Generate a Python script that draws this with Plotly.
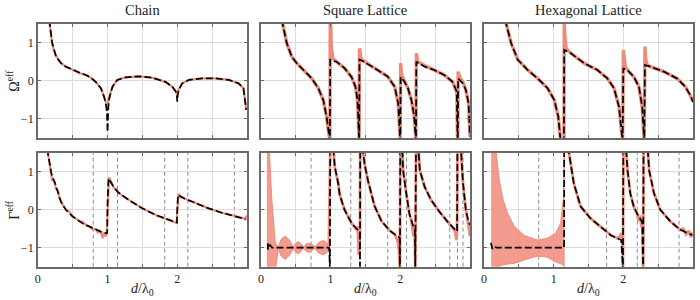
import plotly.graph_objects as go

# ---------------- data ----------------
# Chain, Omega
chain_om_ref_x = [0.16, 0.17, 0.19, 0.205, 0.23, 0.262, 0.3, 0.333, 0.4, 0.5, 0.6, 0.69, 0.76, 0.83, 0.905, 0.95, 0.975, 0.99, 0.998,
                  1.005, 1.02, 1.07, 1.14, 1.26, 1.45, 1.64, 1.83, 1.93, 1.98, 1.995, 2.0, 2.005, 2.02, 2.07, 2.17, 2.36, 2.55,
                  2.74, 2.88, 2.95, 2.99]
chain_om_ref_y = [1.6, 1.45, 1.15, 0.98, 0.8, 0.65, 0.55, 0.46, 0.37, 0.28, 0.2, 0.15, 0.08, -0.03, -0.2, -0.42, -0.55, -0.65, -0.72,
                  -0.6, -0.45, -0.16, 0.02, 0.09, 0.115, 0.08, -0.03, -0.16, -0.28, -0.35, -0.4, -0.33, -0.24, -0.07, 0.02, 0.06, 0.06,
                  0.02, -0.07, -0.2, -0.77]
chain_om_mod_x = [0.165, 0.19, 0.205, 0.262, 0.333, 0.4, 0.5, 0.6, 0.69, 0.76, 0.83, 0.905, 0.95, 0.975, 0.99, 1.0, 1.01, 1.02, 1.07,
                  1.14, 1.26, 1.45, 1.64, 1.83, 1.93, 1.98, 1.995, 2.0, 2.005, 2.02, 2.07, 2.17, 2.36, 2.55, 2.74, 2.88, 2.95, 2.99]
chain_om_mod_y = [1.6, 1.15, 1.0, 0.63, 0.46, 0.37, 0.28, 0.21, 0.15, 0.08, -0.03, -0.2, -0.42, -0.6, -0.8, -1.35, -0.75, -0.5, -0.16,
                  0.02, 0.09, 0.115, 0.08, -0.03, -0.16, -0.29, -0.4, -0.55, -0.4, -0.25, -0.07, 0.02, 0.06, 0.06, 0.02, -0.07, -0.2, -0.77]

# Chain, Gamma
chain_ga_ref_x = [0.14, 0.16, 0.19, 0.205, 0.22, 0.24, 0.26, 0.29, 0.31, 0.33, 0.36, 0.405, 0.45, 0.5, 0.55, 0.6, 0.64, 0.7, 0.74,
                  0.79, 0.83, 0.86, 0.88, 0.91, 0.93, 0.95, 0.97, 0.99, 1.02, 1.05, 1.08, 1.11, 1.143, 1.2, 1.31, 1.5, 1.69, 1.88,
                  1.94, 1.976, 1.99, 2.02, 2.05, 2.095, 2.26, 2.45, 2.64, 2.83, 2.9, 2.95, 2.98, 2.99]
chain_ga_ref_y = [1.55, 1.25, 0.95, 0.78, 0.78, 0.7, 0.55, 0.5, 0.3, 0.25, 0.12, 0.0, -0.05, -0.18, -0.24, -0.3, -0.32, -0.42, -0.45,
                  -0.52, -0.5, -0.6, -0.55, -0.62, -0.75, -0.6, -0.7, -0.6, 0.85, 0.75, 0.6, 0.55, 0.47, 0.38, 0.25, 0.035, -0.14, -0.27,
                  -0.3, -0.33, -0.35, 0.42, 0.33, 0.3, 0.17, 0.035, -0.08, -0.18, -0.2, -0.22, -0.25, -0.15]
chain_ga_mod_x = [0.14, 0.148, 0.19, 0.205, 0.24, 0.29, 0.33, 0.405, 0.5, 0.64, 0.79, 0.93, 0.986, 0.995, 1.0, 1.014, 1.071, 1.143,
                  1.31, 1.5, 1.69, 1.88, 1.976, 1.995, 2.0, 2.01, 2.095, 2.26, 2.45, 2.64, 2.83, 2.98]
chain_ga_mod_y = [1.6, 1.45, 1.0, 0.87, 0.74, 0.47, 0.21, -0.01, -0.18, -0.36, -0.49, -0.6, -0.62, -0.63, 0.2, 0.82, 0.65, 0.47,
                  0.25, 0.035, -0.14, -0.27, -0.33, -0.34, 0.0, 0.39, 0.3, 0.17, 0.035, -0.08, -0.18, -0.25]

# Square lattice, Omega
sq_om_mod_x = [0.3, 0.31, 0.371, 0.443, 0.514, 0.633, 0.729, 0.824, 0.895, 0.943, 0.976, 0.99, 0.995, 1.03, 1.086, 1.2, 1.3, 1.357,
               1.386, 1.405, 1.41, 1.414, 1.44, 1.63, 1.82, 1.92, 1.97, 1.996, 2.0, 2.005, 2.06, 2.11, 2.16, 2.2, 2.22, 2.225, 2.23,
               2.35, 2.49, 2.63, 2.75, 2.81, 2.82, 2.825, 2.83, 2.9, 2.94, 2.98, 3.0]
sq_om_mod_y = [1.6, 1.5, 0.99, 0.63, 0.46, 0.24, 0.06, -0.2, -0.51, -0.95, -1.5, -1.6, 0.55, 0.52, 0.5, 0.33, 0.1, -0.16,
               -0.51, -1.5, -1.6, 0.56, 0.54, 0.33, 0.11, -0.16, -0.6, -1.47, -1.6, 0.1, -0.03, -0.2, -0.51, -0.95, -1.47, -1.6, 0.5,
               0.37, 0.28, 0.15, -0.03, -0.29, -1.47, -1.6, 0.06, -0.07, -0.24, -0.6, -1.47]
sq_om_ref_x = [0.3, 0.31, 0.371, 0.443, 0.514, 0.633, 0.729, 0.824, 0.895, 0.943, 0.976, 0.99, 0.995, 1.0, 1.01, 1.03, 1.086, 1.2,
               1.3, 1.357, 1.386, 1.405, 1.41, 1.414, 1.43, 1.44, 1.63, 1.82, 1.92, 1.97, 1.996, 2.0, 2.005, 2.02, 2.06, 2.11,
               2.16, 2.2, 2.22, 2.225, 2.23, 2.25, 2.35, 2.49, 2.63, 2.75, 2.81, 2.82, 2.825, 2.83, 2.85, 2.9, 2.94, 2.98, 3.0]
sq_om_ref_y = [1.6, 1.5, 0.99, 0.63, 0.46, 0.24, 0.06, -0.2, -0.51, -0.95, -1.5, -1.6, 1.6, 1.6, 0.9, 0.6, 0.5, 0.33,
               0.1, -0.16, -0.51, -1.5, -1.6, 0.85, 0.62, 0.56, 0.33, 0.11, -0.16, -0.6, -1.47, -1.6, 0.46, 0.15, -0.01, -0.2,
               -0.51, -0.95, -1.47, -1.6, 0.72, 0.5, 0.4, 0.28, 0.15, -0.03, -0.29, -1.47, -1.6, 0.24, 0.1, -0.05, -0.24, -0.6, -1.47]

# Square lattice, Gamma
sq_ga_band_x = [0.086, 0.12, 0.157, 0.181, 0.205, 0.229, 0.25, 0.29, 0.347, 0.41, 0.467, 0.5, 0.538, 0.575, 0.61, 0.65, 0.695,
                0.735, 0.776, 0.83, 0.895, 0.94, 0.975]
sq_ga_band_hi = [1.6, 1.6, 0.25, -0.45, -0.84, -0.93, -0.98, -0.78, -0.69, -0.8, -0.98, -0.88, -0.84, -0.9, -0.98, -0.9, -0.88,
                 -0.92, -0.98, -0.86, -0.81, -0.86, -0.95]
sq_ga_band_lo = [-1.6, -1.6, -1.6, -1.6, -1.6, -1.3, -1.02, -1.22, -1.31, -1.2, -1.02, -1.12, -1.16, -1.1, -1.02, -1.1, -1.12,
                 -1.08, -1.02, -1.14, -1.19, -1.14, -1.05]
sq_ga_mod_x = [0.1, 0.1, 0.13, 0.16, 0.98, 0.99, 0.995, 1.04, 1.06, 1.11, 1.13, 1.2, 1.3, 1.38, 1.42, 1.422, 1.425, 1.46, 1.49,
               1.54, 1.63, 1.73, 1.85, 1.92, 1.99, 1.995, 2.0, 2.03, 2.04, 2.086, 2.13, 2.18, 2.21, 2.215, 2.225, 2.26, 2.28,
               2.35, 2.44, 2.56, 2.68, 2.79, 2.815, 2.82, 2.87, 2.9, 2.94, 2.98, 3.0]
sq_ga_mod_y = [-0.88, -1.05, -0.92, -1.0, -1.0, -1.6, 1.6, 1.6, 1.13, 0.69, 0.4, 0.0, -0.35, -0.52, -0.6, -1.6, 1.6, 1.6, 1.18,
               0.74, 0.1, -0.3, -0.55, -0.65, -0.73, -1.6, 1.6, 1.6, 1.04, 0.43, -0.1, -0.4, -0.53, -1.6, 1.6, 1.6, 1.04,
               0.6, 0.26, -0.05, -0.32, -0.53, -0.57, 1.6, 1.6, 0.69, 0.0, -0.32, -0.4]
sq_ga_ref_x = [0.975, 0.985, 0.995, 1.04, 1.06, 1.11, 1.13, 1.2, 1.3, 1.36, 1.39, 1.405, 1.415, 1.422, 1.425, 1.46, 1.49,
               1.54, 1.63, 1.73, 1.85, 1.92, 1.96, 1.98, 1.995, 2.0, 2.03, 2.04, 2.086, 2.13, 2.16, 2.18, 2.19, 2.205, 2.215, 2.225,
               2.26, 2.28, 2.35, 2.44, 2.56, 2.68, 2.76, 2.79, 2.805, 2.815, 2.82, 2.87, 2.9, 2.94, 2.96, 2.98, 3.0]
sq_ga_ref_y = [-0.95, 1.6, 1.6, 1.6, 1.13, 0.69, 0.4, 0.0, -0.35, -0.5, -0.45, -1.2, -0.7, -0.6, 1.6, 1.6, 1.18,
               0.74, 0.1, -0.3, -0.55, -0.65, -0.8, -1.06, -1.6, 1.6, 1.6, 1.04, 0.43, -0.1, -0.3, -0.5, -0.7, -0.45, -1.6, 1.6,
               1.6, 1.04, 0.6, 0.26, -0.05, -0.32, -0.5, -0.6, -0.8, -0.55, 1.6, 1.6, 0.69, 0.0, -0.3, -0.45, -0.7]

# Hexagonal lattice, Omega
hx_om_mod_x = [0.31, 0.319, 0.39, 0.486, 0.629, 0.771, 0.914, 1.01, 1.067, 1.095, 1.1, 1.148, 1.152, 1.176, 1.248, 1.438, 1.629,
               1.771, 1.867, 1.938, 1.986, 1.99, 2.0, 2.08, 2.152, 2.224, 2.271, 2.295, 2.3, 2.31, 2.39, 2.58, 2.77, 2.89, 2.96, 3.0]
hx_om_mod_y = [1.6, 1.5, 0.99, 0.55, 0.28, 0.06, -0.2, -0.51, -0.95, -1.5, -1.6, -1.6, 0.81, 0.79, 0.72, 0.46, 0.28,
               0.06, -0.2, -0.69, -1.5, -1.6, 0.33, 0.24, 0.1, -0.16, -0.69, -1.5, -1.6, 0.41, 0.37, 0.24, 0.06, -0.16, -0.38, -0.56]
hx_om_ref_x = [0.31, 0.319, 0.39, 0.486, 0.629, 0.771, 0.914, 1.01, 1.067, 1.095, 1.1, 1.148, 1.152, 1.16, 1.18, 1.248, 1.438,
               1.629, 1.771, 1.867, 1.938, 1.986, 1.99, 2.0, 2.01, 2.03, 2.08, 2.152, 2.224, 2.271, 2.295, 2.3, 2.31, 2.32, 2.34,
               2.39, 2.58, 2.77, 2.89, 2.96, 3.0]
hx_om_ref_y = [1.6, 1.5, 0.99, 0.55, 0.28, 0.06, -0.2, -0.51, -0.95, -1.5, -1.6, -1.6, 1.6, 1.2, 0.85, 0.72, 0.46,
               0.28, 0.06, -0.2, -0.69, -1.5, -1.6, 0.81, 0.55, 0.35, 0.24, 0.1, -0.16, -0.69, -1.5, -1.6, 0.9, 0.6, 0.42,
               0.37, 0.24, 0.06, -0.16, -0.38, -0.56]

# Hexagonal lattice, Gamma
hx_ga_band_x = [0.104, 0.14, 0.176, 0.22, 0.25, 0.27, 0.34, 0.44, 0.58, 0.77, 0.91, 1.03, 1.1, 1.14, 1.15]
hx_ga_band_hi = [1.6, 1.6, 1.5, 0.78, 0.5, 0.3, -0.1, -0.45, -0.68, -0.8, -0.75, -0.62, -0.36, 0.3, 1.6]
hx_ga_band_lo = [-1.6, -1.6, -1.6, -1.5, -1.46, -1.45, -1.43, -1.41, -1.32, -1.22, -1.25, -1.37, -1.42, -1.46, -1.5]
hx_ga_mod_x = [0.1, 0.12, 0.15, 0.18, 1.15, 1.152, 1.2, 1.22, 1.29, 1.37, 1.39, 1.53, 1.68, 1.82, 1.91, 1.97, 1.995, 2.0,
               2.04, 2.06, 2.1, 2.15, 2.22, 2.27, 2.285, 2.29, 2.35, 2.37, 2.44, 2.53, 2.68, 2.82, 2.99]
hx_ga_mod_y = [-0.87, -1.03, -0.97, -1.0, -1.0, 1.6, 1.6, 1.5, 0.69, 0.17, 0.08, -0.23, -0.45, -0.67, -0.75, -0.8, -1.6, 1.6,
               1.6, 1.04, 0.43, 0.08, -0.18, -0.32, -1.6, 1.6, 1.6, 1.04, 0.43, 0.0, -0.32, -0.53, -0.67]
hx_ga_ref_x = [1.152, 1.2, 1.22, 1.29, 1.37, 1.39, 1.53, 1.68, 1.82, 1.91, 1.95, 1.975, 1.99, 1.995, 2.0, 2.04, 2.06, 2.1,
               2.15, 2.2, 2.22, 2.24, 2.26, 2.275, 2.285, 2.29, 2.35, 2.37, 2.44, 2.53, 2.68, 2.82, 2.86, 2.9, 2.94, 2.97, 2.99]
hx_ga_ref_y = [1.6, 1.6, 1.5, 0.69, 0.17, 0.08, -0.23, -0.45, -0.67, -0.75, -0.7, -0.62, -0.95, -1.6, 1.6, 1.6, 1.04, 0.43,
               0.08, -0.12, -0.3, -0.15, -0.45, -0.3, -1.6, 1.6, 1.6, 1.04, 0.43, 0.0, -0.32, -0.53, -0.5, -0.65, -0.55, -0.72, -0.6]

# vertical dashed markers (bottom row)
chain_vlines = [0.795, 1.143, 1.82, 2.152, 2.82]
square_vlines = [0.72, 1.29, 1.82, 2.09, 2.71, 2.82, 2.9]
hex_vlines = [0.786, 1.76, 2.2, 2.80]

col_titles = ["Chain", "Square Lattice", "Hexagonal Lattice"]
row_labels = ["Ω<sup>eff</sup>", "Γ<sup>eff</sup>"]
x_label = "<i>d</i>/λ<sub>0</sub>"
x_tickvals = [0, 0.5, 1, 1.5, 2, 2.5]
x_ticktext = ["0", "", "1", "", "2", ""]
y_tickvals = [-1, 0, 1]
y_ticktext = ["\u22121", "0", "1"]

# ---------------- styling ----------------
SALMON = "rgb(240,138,122)"
BLACK = "black"
FONT = "Liberation Serif"
TXT = "#222222"

fig = go.Figure()

def add_ref(x, y, ax, w=2.6):
    fig.add_trace(go.Scatter(x=x, y=y, mode="lines", line=dict(color=SALMON, width=w),
                             xaxis="x" + ax, yaxis="y" + ax, showlegend=False, hoverinfo="skip"))

def add_mod(x, y, ax):
    fig.add_trace(go.Scatter(x=x, y=y, mode="lines", line=dict(color=BLACK, width=1.7, dash="7px,3px"),
                             xaxis="x" + ax, yaxis="y" + ax, showlegend=False, hoverinfo="skip"))

def add_band(x, hi, lo, ax):
    fig.add_trace(go.Scatter(x=list(x) + list(x)[::-1], y=list(hi) + list(lo)[::-1], mode="lines",
                             fill="toself", fillcolor="rgba(240,138,122,0.85)", line=dict(color=SALMON, width=1),
                             xaxis="x" + ax, yaxis="y" + ax, showlegend=False, hoverinfo="skip"))

add_ref(chain_om_ref_x, chain_om_ref_y, "", 2.2)
add_mod(chain_om_mod_x, chain_om_mod_y, "")
add_ref(sq_om_ref_x, sq_om_ref_y, "2", 3.4)
add_mod(sq_om_mod_x, sq_om_mod_y, "2")
add_ref(hx_om_ref_x, hx_om_ref_y, "3", 3.4)
add_mod(hx_om_mod_x, hx_om_mod_y, "3")
add_ref(chain_ga_ref_x, chain_ga_ref_y, "4", 2.2)
add_mod(chain_ga_mod_x, chain_ga_mod_y, "4")
add_band(sq_ga_band_x, sq_ga_band_hi, sq_ga_band_lo, "5")
add_ref(sq_ga_ref_x, sq_ga_ref_y, "5", 2.8)
add_mod(sq_ga_mod_x, sq_ga_mod_y, "5")
add_band(hx_ga_band_x, hx_ga_band_hi, hx_ga_band_lo, "6")
add_ref(hx_ga_ref_x, hx_ga_ref_y, "6", 2.8)
add_mod(hx_ga_mod_x, hx_ga_mod_y, "6")

W, H = 700, 300

def px_x(p):
    return p / W

def px_y(p):
    return 1 - p / H

xdoms = [[px_x(35), px_x(245)], [px_x(259), px_x(469)], [px_x(483), px_x(693)]]
ydoms = [[px_y(137.7), px_y(23.7)], [px_y(266.7), px_y(152.7)]]

axis_common = dict(showline=True, linecolor="#6b6b6b", linewidth=1.6, mirror="ticks",
                   ticks="inside", ticklen=3, tickcolor="#6b6b6b", tickwidth=1,
                   showgrid=True, gridcolor="#dcdcdc", gridwidth=1.4, zeroline=False,
                   tickfont=dict(family=FONT, size=12, color=TXT))

layout = dict(width=W, height=H, margin=dict(l=0, r=0, t=0, b=0),
              paper_bgcolor="white", plot_bgcolor="white", showlegend=False)

for i in range(6):
    r, c = divmod(i, 3)
    n = "" if i == 0 else str(i + 1)
    xa = dict(axis_common, domain=xdoms[c], range=[0, 3], tickmode="array",
              tickvals=x_tickvals, ticktext=x_ticktext if r == 1 else [""] * len(x_tickvals),
              anchor="y" + n)
    ya = dict(axis_common, domain=ydoms[r], range=[-1.5, 1.5], tickmode="array",
              tickvals=y_tickvals, ticktext=y_ticktext if c == 0 else ["", "", ""],
              anchor="x" + n)
    layout["xaxis" + n] = xa
    layout["yaxis" + n] = ya

fig.update_layout(**layout)

shapes = []
for ax, vl in (("4", chain_vlines), ("5", square_vlines), ("6", hex_vlines)):
    for v in vl:
        shapes.append(dict(type="line", xref="x" + ax, yref="y" + ax + " domain", x0=v, x1=v, y0=0, y1=1,
                           line=dict(color="#8a8a8a", width=1, dash="4px,3px"), layer="below"))
fig.update_layout(shapes=shapes)

annotations = []
for c, t in enumerate(col_titles):
    cx = (xdoms[c][0] + xdoms[c][1]) / 2
    annotations.append(dict(text=t, x=cx, y=px_y(10), xref="paper", yref="paper",
                            showarrow=False, font=dict(family=FONT, size=14.5, color=TXT),
                            xanchor="center", yanchor="middle"))
    annotations.append(dict(text=x_label, x=cx, y=px_y(289), xref="paper", yref="paper",
                            showarrow=False, font=dict(family=FONT, size=14, color=TXT),
                            xanchor="center", yanchor="middle"))
for r, t in enumerate(row_labels):
    annotations.append(dict(text=t, x=px_x(10), y=(ydoms[r][0] + ydoms[r][1]) / 2, xref="paper", yref="paper",
                            showarrow=False, textangle=-90, font=dict(family=FONT, size=14, color=TXT),
                            xanchor="center", yanchor="middle"))
fig.update_layout(annotations=annotations)

# remove the browser's default 8px page margin so the figure fills the window exactly
fig.write_html("out.html", config={"displayModeBar": False},
               post_script="document.body.style.margin='0';")
